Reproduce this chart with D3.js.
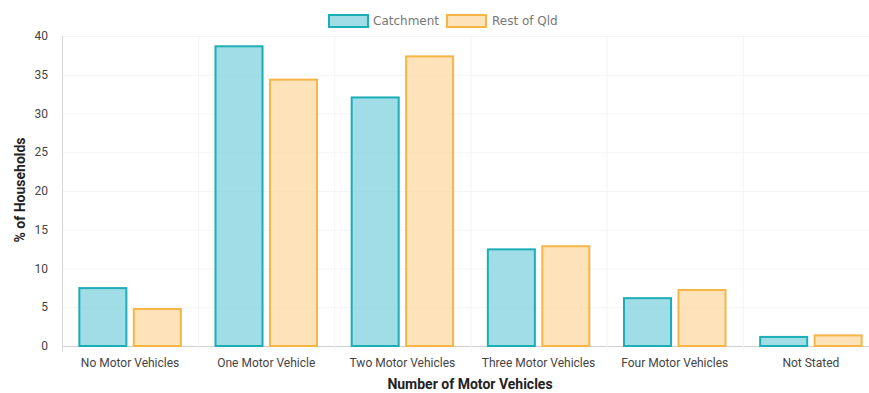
<!DOCTYPE html>
<html><head><meta charset="utf-8">
<script src="https://cdn.jsdelivr.net/npm/d3@7"></script>
<style>body{margin:0;background:#fff}svg{display:block;font-family:Roboto,"Open Sans",sans-serif}</style>
</head><body><svg id="c" width="869" height="393"></svg>
<script>
const categories = ["No Motor Vehicles","One Motor Vehicle","Two Motor Vehicles","Three Motor Vehicles","Four Motor Vehicles","Not Stated"];
const seriesNames = ["Catchment","Rest of Qld"];
const catchment = [7.6, 38.8, 32.2, 12.6, 6.3, 1.3];
const restOfQld = [4.9, 34.5, 37.5, 13.0, 7.35, 1.5];
const yTicks = [0,5,10,15,20,25,30,35,40];
const fills = ["rgba(130,210,222,0.75)","rgba(253,215,160,0.72)"];
const strokes = ["#1aaeb6","#f6b545"];

const svg = d3.select("#c");
const m = {l:62, r:879, t:36, b:346};
const x = d3.scaleBand().domain(categories).range([m.l, m.r]).paddingInner(0).paddingOuter(0);
const x1 = d3.scaleBand().domain(seriesNames).range([0, x.bandwidth()*0.8]).paddingInner(0.1).paddingOuter(0.05);
const y = d3.scaleLinear().domain([0,40]).range([m.b, m.t]);

// grid
const g = svg.append("g");
g.selectAll("line.h").data(yTicks).join("line")
  .attr("x1", m.l).attr("x2", m.r).attr("y1", d=>y(d)+0.5).attr("y2", d=>y(d)+0.5)
  .attr("stroke", d=>d===0?"#cfcfcf":"#f4f4f4");
g.selectAll("line.v").data(d3.range(categories.length+1)).join("line")
  .attr("x1", i=>m.l+i*x.step()+0.5).attr("x2", i=>m.l+i*x.step()+0.5)
  .attr("y1", m.t).attr("y2", m.b+6)
  .attr("stroke", i=>i===0?"#d6d6d6":"#f4f4f4");

// y axis labels
svg.append("g").selectAll("text").data(yTicks).join("text")
  .attr("x", 48).attr("y", d=>y(d)).attr("dy","0.35em").attr("text-anchor","end")
  .attr("font-size",12).attr("fill","#444").text(d=>d);

// bars
const data = [catchment, restOfQld];
categories.forEach((c,i)=>{
  seriesNames.forEach((s,j)=>{
    const v = data[j][i];
    const bx = x(c) + x.bandwidth()*0.1 + x1(s);
    svg.append("rect")
      .attr("x", bx+1).attr("y", y(v)+1)
      .attr("width", x1.bandwidth()-2).attr("height", y(0)-y(v)-1)
      .attr("fill", fills[j]).attr("stroke", strokes[j]).attr("stroke-width",2);
  });
});

// x labels
svg.append("g").selectAll("text").data(categories).join("text")
  .attr("x", d=>x(d)+x.bandwidth()/2).attr("y", 363).attr("dy","0.35em")
  .attr("text-anchor","middle").attr("font-size",12).attr("fill","#444").text(d=>d);

// titles
svg.append("text").attr("x", 470).attr("y", 384).attr("dy","0.35em").attr("text-anchor","middle")
  .attr("font-size",14).attr("font-weight","bold").attr("fill","#222").text("Number of Motor Vehicles");
svg.append("text").attr("transform","translate(20,190) rotate(-90)").attr("dy","0.35em").attr("text-anchor","middle")
  .attr("font-size",14).attr("font-weight","bold").attr("fill","#222").text("% of Households");

// legend
const leg = [{x:329, tx:373},{x:447, tx:492}];
seriesNames.forEach((s,j)=>{
  svg.append("rect").attr("x", leg[j].x).attr("y", 15).attr("width", 39).attr("height", 12)
    .attr("fill", fills[j]).attr("stroke", strokes[j]).attr("stroke-width",2);
  svg.append("text").attr("x", leg[j].tx).attr("y", 21).attr("dy","0.35em")
    .attr("font-family","'DejaVu Sans',sans-serif")
    .attr("font-size",12).attr("fill","#777").text(s);
});
</script></body></html>
